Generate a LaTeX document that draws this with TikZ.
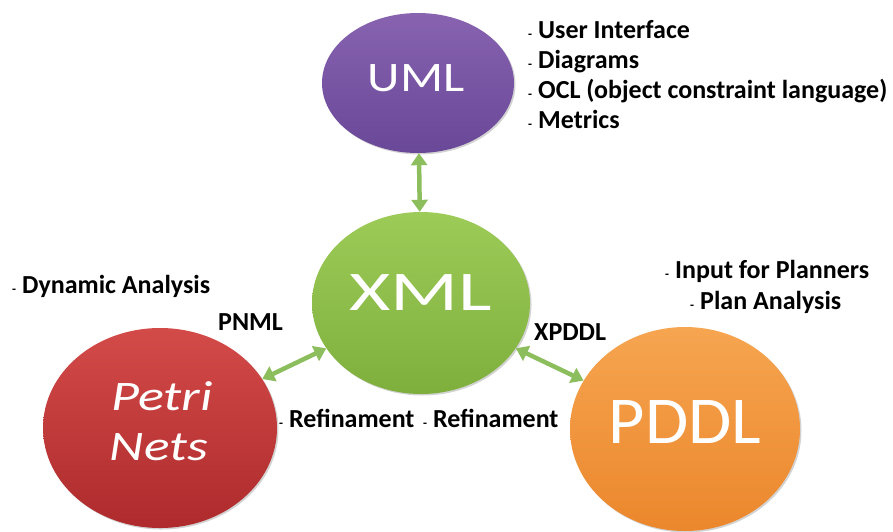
\documentclass[tikz,border=0pt]{standalone}
\usepackage{fontspec}
\setmainfont{Carlito}
\usetikzlibrary{shapes.geometric,arrows.meta,shadows}
\definecolor{umltop}{HTML}{8763B0}
\definecolor{umlbot}{HTML}{6A4898}
\definecolor{xmltop}{HTML}{9DCB58}
\definecolor{xmlbot}{HTML}{7EAF3D}
\definecolor{pntop}{HTML}{D34B49}
\definecolor{pnbot}{HTML}{AE2A2C}
\definecolor{pdtop}{HTML}{F6A550}
\definecolor{pdbot}{HTML}{EB872C}
\definecolor{arrowgreen}{HTML}{8DBE5E}
\newcommand\mydash{{\fontsize{13}{13}\selectfont -}\hspace{6pt}}
\tikzset{
  blob/.style={ellipse, inner sep=0pt, draw=none, text=white,
    drop shadow={shadow xshift=1.5pt, shadow yshift=-1.5pt, opacity=0.35}},
  lbl/.style={anchor=base west, inner sep=0pt, font=\fontsize{26}{30}\selectfont\bfseries, text=black},
  link/.style={draw=arrowgreen, line width=4.5pt,
    {Triangle[width=16pt,length=12pt]}-{Triangle[width=16pt,length=12pt]}}
}
\begin{document}
\begin{tikzpicture}[x=1pt,y=-1pt]
\useasboundingbox (0,0) rectangle (893,531);
% ellipses
\node[blob, minimum width=192pt, minimum height=140pt, top color=umltop, bottom color=umlbot] (uml) at (418,83) {};
\node[blob, minimum width=218pt, minimum height=182pt, top color=xmltop, bottom color=xmlbot] (xml) at (421,303) {};
\node[blob, minimum width=234pt, minimum height=200pt, top color=pntop, bottom color=pnbot] (petri) at (160,428) {};
\node[blob, minimum width=230pt, minimum height=204pt, top color=pdtop, bottom color=pdbot] (pddl) at (685,429) {};
% node texts
\node[text=white, inner sep=0pt, font=\fontsize{42}{42}\selectfont] (umlt) at (416,78) {\scalebox{1.2}[1]{UML}};
\node[text=white, inner sep=0pt, font=\fontsize{56}{56}\selectfont] (xmlt) at (421,293) {\scalebox{1.42}[1]{XML}};
\node[text=white, inner sep=0pt, font=\fontsize{67}{67}\selectfont] (pddlt) at (685,422) {\scalebox{1.05}[1]{PDDL}};
\node[text=white, inner sep=0pt, anchor=base, font=\fontsize{42}{42}\selectfont\itshape] (pn1) at (162,410) {\scalebox{1.29}[1]{Petri}};
\node[text=white, inner sep=0pt, anchor=base, font=\fontsize{42}{42}\selectfont\itshape] (pn2) at (159,460) {\scalebox{1.27}[1]{Nets}};
% connectors
\draw[link] (uml) -- (xml);
\draw[link] (xml) -- (petri);
\draw[link] (xml) -- (pddl);
% labels
\node[lbl] (u1) at (528,38) {\mydash User Interface};
\node[lbl] (u2) at (528,68) {\mydash Diagrams};
\node[lbl] (u3) at (528,98) {\mydash OCL (object constraint language)};
\node[lbl] (u4) at (528,128) {\mydash Metrics};
\node[lbl] (dyn) at (12,293) {\mydash Dynamic Analysis};
\node[lbl] (pnml) at (218,330) {PNML};
\node[lbl] (xpddl) at (534,340) {XPDDL};
\node[lbl] (inp) at (665,278) {\mydash Input for Planners};
\node[lbl] (plan) at (690,309) {\mydash Plan Analysis};
\node[lbl] (ref1) at (279,427) {\mydash Refinament};
\node[lbl] (ref2) at (423,427) {\mydash Refinament};
\end{tikzpicture}
\end{document}
